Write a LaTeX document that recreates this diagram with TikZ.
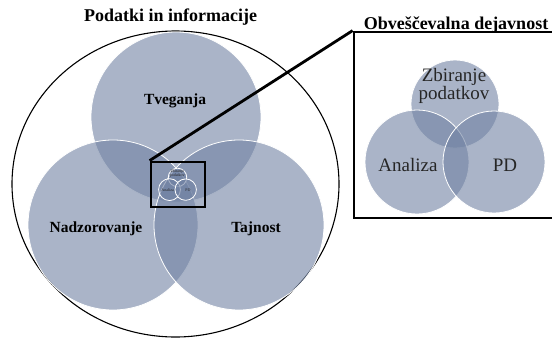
\documentclass[tikz,border=0pt]{standalone}
\usepackage{fontspec}
\setmainfont{Liberation Serif}
\usetikzlibrary{shapes.geometric}

\definecolor{venn}{RGB}{113,130,163}

\tikzset{
  venncirc/.style={circle, fill=venn, fill opacity=0.6, draw=white, line width=0.8pt, inner sep=0pt},
  venntext/.style={font=\bfseries\fontsize{15.5}{18}\selectfont, text=black},
  obvtext/.style={font=\fontsize{19}{18}\selectfont, text=black!85, align=center},
  titletext/.style={font=\bfseries\fontsize{18}{20}\selectfont, text=black},
  zoombox/.style={draw=black, line width=2.8pt, inner sep=0pt},
}

% three circles of the intelligence cycle, origin = middle of the diagram
\newcommand{\obvvenn}[1]{%
  \node[venncirc, minimum size=88pt] (#1zb) at (0,-36) {};
  \node[venncirc, minimum size=104pt] (#1an) at (-38,22) {};
  \node[venncirc, minimum size=102pt] (#1pd) at (39,22) {};
  \node[obvtext] (#1zbt) at (-1,-54) {Zbiranje\\podatkov};
  \node[obvtext] (#1ant) at (-47,25) {Analiza};
  \node[obvtext] (#1pdt) at (50,25) {PD};
}

\begin{document}
\begin{tikzpicture}[x=1pt,y=-1pt]
\useasboundingbox (0,0) rectangle (552,338);

\node[draw, ellipse, line width=1.1pt, inner sep=0pt, minimum width=327pt, minimum height=306pt] (outer) at (175.5,184) {};

\node[venncirc, minimum size=170pt] (tveg) at (176,117) {};
\node[venncirc, minimum size=170pt] (nadz) at (113,225) {};
\node[venncirc, minimum size=170pt] (tajn) at (239,225) {};

\node[venntext] (tvegt) at (175,101) {Tveganja};
\node[venntext] (nadzt) at (96,229) {Nadzorovanje};
\node[venntext] (tajnt) at (256,229) {Tajnost};

\node[titletext] (podatki) at (170.5,17) {Podatki in informacije};
\node[titletext] (obvesc) at (456,25) {Obveščevalna dejavnost};

% small copy inside the big diagram
\begin{scope}[shift={(177.5,185)}, scale=0.21, transform shape]
\obvvenn{t}
\end{scope}
\node[zoombox, minimum width=54pt, minimum height=45pt] (zoomsmall) at (178,184.5) {};

% enlarged copy on the right
\begin{scope}[shift={(455,140)}]
\obvvenn{b}
\end{scope}
\node[zoombox, minimum width=250pt, minimum height=186pt] (zoombig) at (479,125) {};

\draw[line width=2.8pt] (zoomsmall.north west) -- (zoombig.north west);

\end{tikzpicture}
\end{document}
